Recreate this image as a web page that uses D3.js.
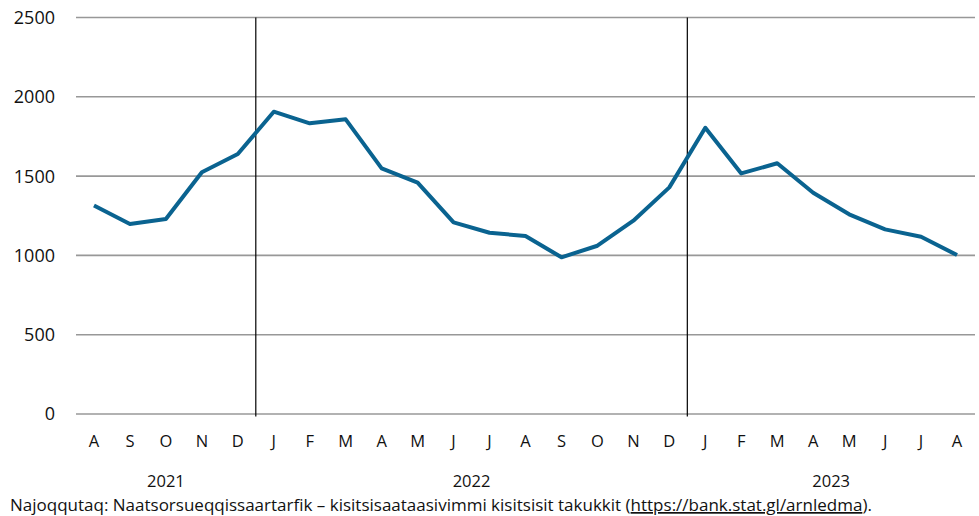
<!DOCTYPE html>
<html><head><meta charset="utf-8">
<script src="https://cdn.jsdelivr.net/npm/d3@7"></script>
<style>body{margin:0;background:#fff}svg{display:block}text{font-family:"Open Sans",sans-serif;fill:#111}</style>
</head><body><svg id="c" width="979" height="516"></svg>
<script>
const months = ["A","S","O","N","D","J","F","M","A","M","J","J","A","S","O","N","D","J","F","M","A","M","J","J","A"];
const values = [1315,1198,1229,1524,1639,1906,1833,1858,1549,1459,1208,1143,1122,988,1061,1219,1429,1805,1517,1581,1395,1259,1164,1118,1002];
const yTicks = [0,500,1000,1500,2000,2500];
const years = [{label:"2021",from:0,to:4},{label:"2022",from:5,to:16},{label:"2023",from:17,to:24}];
const source = "Najoqqutaq: Naatsorsueqqissaartarfik – kisitsisaataasivimmi kisitsisit takukkit (";
const sourceUrl = "https://bank.stat.gl/arnledma";
const sourceEnd = ").";

const svg = d3.select("#c");
const m = {l:76, r:975, t:17.5, b:414};
const idx = d3.range(months.length);
const x = d3.scaleBand().domain(idx).range([m.l, m.r]);
const y = d3.scaleLinear().domain([0,2500]).range([m.b, m.t]);

svg.append("g").selectAll("line").data(yTicks).join("line")
  .attr("x1", m.l).attr("x2", m.r)
  .attr("y1", d=>y(d)).attr("y2", d=>y(d))
  .attr("stroke","#989898").attr("stroke-width",1.6);

svg.append("g").selectAll("text").data(yTicks).join("text")
  .attr("x", 55).attr("y", d=>y(d)).attr("dy","0.36em")
  .attr("text-anchor","end").style("font-size","18px").text(d=>d);

years.slice(1).forEach(yr=>{
  const xs = x(yr.from);
  svg.append("line").attr("x1",xs).attr("x2",xs).attr("y1",m.t).attr("y2",m.b+2.5)
    .attr("stroke","#000").attr("stroke-width",1.2);
});

svg.append("g").selectAll("text").data(idx).join("text")
  .attr("x", i=>x(i)+x.bandwidth()/2).attr("y", 447)
  .attr("text-anchor","middle").style("font-size","16.5px").text(i=>months[i]);

svg.append("g").selectAll("text").data(years).join("text")
  .attr("x", d=>(x(d.from)+x(d.to)+x.bandwidth())/2).attr("y", 487)
  .attr("text-anchor","middle").style("font-size","16.5px").text(d=>d.label);

const line = d3.line().x((d,i)=>x(i)+x.bandwidth()/2).y(d=>y(d));
svg.append("path").datum(values).attr("d",line)
  .attr("fill","none").attr("stroke","#0a6390").attr("stroke-width",4)
  .attr("stroke-linejoin","round").attr("stroke-linecap","butt");

const t = svg.append("text").attr("x",10).attr("y",511).style("font-size","17px");
t.append("tspan").text(source);
t.append("tspan").style("text-decoration","underline").text(sourceUrl);
t.append("tspan").text(sourceEnd);
</script></body></html>
